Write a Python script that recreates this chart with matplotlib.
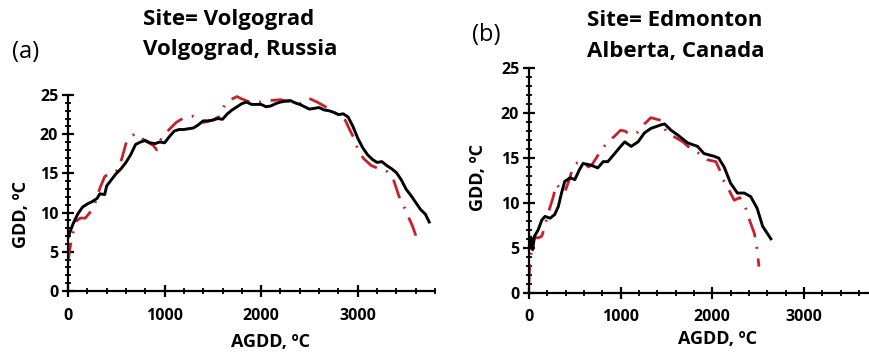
import matplotlib
matplotlib.use("Agg")
import matplotlib.pyplot as plt
from matplotlib.ticker import MultipleLocator

plt.rcParams['font.family'] = ['Open Sans', 'DejaVu Sans']

# ---- panel (a): Volgograd ----
a_black_x = [0, 50, 100, 150, 200, 250, 300, 330, 380, 400, 450, 500, 550, 600, 650, 700,
             750, 800, 850, 900, 950, 1000, 1050, 1100, 1150, 1200, 1250, 1300, 1350, 1400,
             1450, 1500, 1550, 1600, 1650, 1700, 1750, 1800, 1850, 1900, 1950, 2000, 2050,
             2100, 2150, 2200, 2250, 2300, 2350, 2400, 2450, 2500, 2550, 2600, 2650, 2700,
             2750, 2800, 2850, 2900, 2950, 3000, 3050, 3100, 3150, 3200, 3250, 3300, 3350,
             3400, 3450, 3500, 3550, 3600, 3650, 3700, 3740]
a_black_y = [6.8, 8.5, 9.8, 10.7, 11.1, 11.4, 11.8, 12.4, 12.3, 13.4, 14.2, 15.0, 15.6, 16.4,
             17.4, 18.7, 19.0, 19.2, 18.9, 18.8, 19.0, 18.9, 19.7, 20.4, 20.6, 20.6, 20.7,
             20.8, 21.2, 21.7, 21.7, 21.8, 22.0, 21.9, 22.6, 23.1, 23.5, 23.9, 24.1, 23.8,
             23.8, 23.8, 23.5, 23.6, 23.9, 24.1, 24.2, 24.3, 24.0, 23.8, 23.5, 23.2, 23.3,
             23.4, 23.1, 23.0, 22.8, 22.5, 22.6, 22.2, 21.0, 19.5, 18.3, 17.4, 16.8, 16.4,
             16.5, 16.0, 15.6, 15.1, 14.2, 13.0, 12.2, 11.3, 10.4, 9.8, 8.8]

a_red_x = [0, 30, 60, 90, 130, 180, 240, 280, 330, 380, 420, 470, 520, 560, 600, 640, 700,
           760, 820, 880, 920, 960, 1040, 1120, 1200, 1300, 1400, 1500, 1560, 1630, 1700,
           1750, 1800, 1880, 1990, 2100, 2200, 2280, 2400, 2490, 2580, 2680, 2770, 2870,
           2920, 2960, 3000, 3060, 3140, 3220, 3310, 3370, 3440, 3490, 3530, 3570, 3600, 3615]
a_red_y = [3.7, 6.2, 7.8, 9.0, 9.3, 9.3, 10.2, 11.2, 13.1, 14.6, 14.9, 15.0, 15.5, 17.0,
           18.8, 19.6, 20.1, 19.5, 19.0, 18.6, 18.0, 19.3, 20.5, 21.5, 22.1, 22.3, 21.5,
           21.8, 22.2, 23.9, 24.5, 24.8, 24.5, 24.1, 24.1, 24.3, 24.4, 24.2, 23.9, 24.6,
           24.1, 23.4, 22.7, 21.8, 20.5, 19.5, 18.1, 16.9, 16.0, 15.6, 15.2, 14.2, 11.6,
           10.5, 9.3, 8.2, 7.1, 5.9]

# ---- panel (b): Edmonton ----
b_black_x = [10, 20, 40, 60, 100, 140, 175, 230, 280, 320, 355, 390, 450, 500, 550, 590,
             680, 750, 810, 860, 935, 1000, 1045, 1115, 1190, 1260, 1330, 1440, 1480, 1550,
             1620, 1730, 1840, 1910, 2020, 2070, 2130, 2200, 2275, 2350, 2420, 2490, 2550, 2640]
b_black_y = [5.0, 6.2, 4.8, 6.3, 7.0, 8.1, 8.5, 8.3, 8.7, 9.6, 11.1, 12.4, 12.8, 12.6, 13.7,
             14.4, 14.2, 13.9, 14.6, 14.6, 15.5, 16.3, 16.8, 16.3, 16.8, 17.8, 18.3, 18.7,
             18.8, 18.1, 17.6, 16.7, 16.3, 15.5, 15.2, 15.0, 14.0, 12.2, 11.1, 11.1, 10.7,
             9.4, 7.4, 6.0]

b_red_x = [0, 5, 15, 30, 60, 100, 140, 175, 210, 260, 300, 340, 390, 440, 480, 530, 580,
           650, 690, 790, 860, 930, 1000, 1050, 1100, 1190, 1260, 1330, 1440, 1500, 1580,
           1680, 1770, 1860, 1950, 2040, 2080, 2130, 2190, 2240, 2300, 2360, 2410, 2460,
           2490, 2510]
b_red_y = [1.0, 2.5, 3.5, 4.8, 6.2, 6.1, 6.3, 7.5, 8.9, 10.5, 12.1, 11.6, 11.2, 12.6, 14.0,
           14.5, 14.6, 14.0, 14.3, 15.9, 16.8, 17.4, 18.1, 18.0, 17.6, 17.9, 18.8, 19.5,
           19.2, 17.9, 17.4, 16.8, 16.0, 15.5, 14.8, 14.6, 13.7, 12.4, 11.3, 10.3, 10.6,
           9.6, 8.0, 6.6, 4.8, 2.9]

RED = '#C8202A'
DASHDOT = (0, (7, 3.5, 0.7, 3.5))

fig = plt.figure(figsize=(8.69, 3.58), dpi=100)
ax_a = fig.add_axes([68 / 869, 67 / 358, 367 / 869, 196 / 358])
ax_b = fig.add_axes([529 / 869, 65.3 / 358, 339 / 869, 224.4 / 358])


def style_axis(ax, xmax):
    ax.set_xlim(0, xmax)
    ax.set_ylim(0, 25)
    for s in ['top', 'right']:
        ax.spines[s].set_visible(False)
    for s in ['left', 'bottom']:
        ax.spines[s].set_linewidth(1.6)
    ax.xaxis.set_major_locator(MultipleLocator(1000))
    ax.xaxis.set_minor_locator(MultipleLocator(200))
    ax.yaxis.set_major_locator(MultipleLocator(5))
    ax.yaxis.set_minor_locator(MultipleLocator(1))
    ax.tick_params(which='major', direction='inout', length=8, width=1.6,
                   labelsize=11.5, pad=3)
    ax.tick_params(axis='x', which='major', pad=8)
    ax.tick_params(which='minor', direction='inout', length=5, width=1.3)
    for lab in ax.get_xticklabels() + ax.get_yticklabels():
        lab.set_fontweight('bold')
    ax.set_xlabel('AGDD, ºC', fontsize=13, fontweight='bold')
    ax.set_ylabel('GDD, ºC', fontsize=13, fontweight='bold')


ax_a.plot(a_black_x, a_black_y, color='black', lw=2.1, zorder=3)
ax_a.plot(a_red_x, a_red_y, color=RED, lw=2.0, linestyle=DASHDOT, zorder=2)
style_axis(ax_a, 3800)
ax_a.xaxis.set_label_coords(0.553, -0.214)
ax_a.yaxis.set_label_coords(-0.104, 0.39)

ax_b.plot(b_black_x, b_black_y, color='black', lw=2.1, zorder=3)
ax_b.plot(b_red_x, b_red_y, color=RED, lw=2.0, linestyle=DASHDOT, zorder=2)
style_axis(ax_b, 3700)
ax_b.xaxis.set_label_coords(0.557, -0.166)
ax_b.yaxis.set_label_coords(-0.124, 0.513)

# titles and panel letters
fig.text(143 / 869, 1 - 20 / 358, 'Site= Volgograd', fontsize=16, fontweight='bold',
         ha='left', va='center')
fig.text(143 / 869, 1 - 50 / 358, 'Volgograd, Russia', fontsize=16, fontweight='bold',
         ha='left', va='center')
fig.text(12 / 869, 1 - 52 / 358, '(a)', fontsize=17, ha='left', va='center')

fig.text(587 / 869, 1 - 21 / 358, 'Site= Edmonton', fontsize=16, fontweight='bold',
         ha='left', va='center')
fig.text(587 / 869, 1 - 52 / 358, 'Alberta, Canada', fontsize=16, fontweight='bold',
         ha='left', va='center')
fig.text(472 / 869, 1 - 35 / 358, '(b)', fontsize=17, ha='left', va='center')

fig.savefig('out.png', dpi=100)
